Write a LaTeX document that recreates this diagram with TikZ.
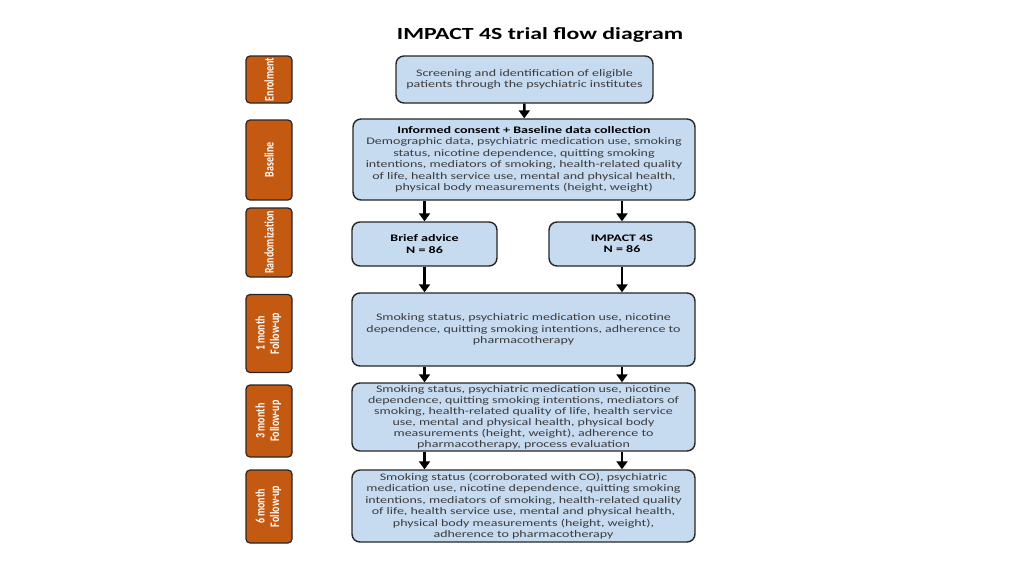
\documentclass[tikz,border=0pt]{standalone}
\usepackage{fontspec}
\setmainfont{Carlito}[FakeStretch=1.4]
\newfontfamily\sidefont{Carlito}
\usetikzlibrary{arrows.meta}
\definecolor{boxblue}{RGB}{198,218,240}
\definecolor{stageorange}{RGB}{196,89,17}
\definecolor{bodytext}{RGB}{60,60,60}
\newcommand{\sidelabel}[1]{\rotatebox{90}{\scalebox{1}[1.3]{#1}}}
\tikzset{
  flowbox/.style={draw=black!85,line width=1.4pt,rounded corners=8pt,fill=boxblue,
    align=center,inner sep=1pt,text=bodytext,font=\fontsize{10}{11.5}\selectfont},
  stagebox/.style={draw=black!85,line width=1.2pt,rounded corners=4pt,fill=stageorange,
    minimum width=46pt,inner sep=0pt,align=center,text=white,
    font=\sidefont\bfseries\fontsize{10}{11}\selectfont},
  flowarrow/.style={line width=2.6pt,-{Triangle[width=11pt,length=8pt]}}
}

\begin{document}
\begin{tikzpicture}[x=1pt,y=-1pt]
  \useasboundingbox (0,0) rectangle (1024,576);

  % Title
  \node (title) at (540,35) {\fontsize{17}{20}\selectfont\bfseries IMPACT 4S trial flow diagram};

  % Stage labels (left column)
  \node[stagebox,minimum height=47pt] (enrol) at (269,79.5) {\sidelabel{Enrolment}};
  \node[stagebox,minimum height=80pt] (basel) at (269,160) {\sidelabel{Baseline}};
  \node[stagebox,minimum height=69pt] (rand) at (269,242.5) {\sidelabel{Randomization}};
  \node[stagebox,minimum height=78pt] (fup1) at (269,333.5) {\sidelabel{\begin{tabular}{@{}c@{}}1 month\\Follow-up\end{tabular}}};
  \node[stagebox,minimum height=72pt] (fup3) at (269,421) {\sidelabel{\begin{tabular}{@{}c@{}}3 month\\Follow-up\end{tabular}}};
  \node[stagebox,minimum height=73pt] (fup6) at (269,506.5) {\sidelabel{\begin{tabular}{@{}c@{}}6 month\\Follow-up\end{tabular}}};

  % Flow boxes
  \node[flowbox,minimum width=257pt,minimum height=47pt] (screen) at (524.5,79.5)
    {Screening and identification of eligible\\patients through the psychiatric institutes};
  \node[flowbox,minimum width=342pt,minimum height=81pt] (base) at (524,159.5)
    {\textcolor{black}{\bfseries Informed consent + Baseline data collection}\\
     Demographic data, psychiatric medication use, smoking\\
     status, nicotine dependence, quitting smoking\\
     intentions, mediators of smoking, health-related quality\\
     of life, health service use, mental and physical health,\\
     physical body measurements (height, weight)};
  \node[flowbox,minimum width=145pt,minimum height=44pt,text=black] (brief) at (424.5,244)
    {\bfseries Brief advice\\\bfseries N = 86};
  \node[flowbox,minimum width=146pt,minimum height=44pt,text=black] (impact) at (622,244)
    {\bfseries IMPACT 4S\\\bfseries N = 86};
  \node[flowbox,minimum width=343pt,minimum height=73pt] (month1) at (523.5,329.5)
    {Smoking status, psychiatric medication use, nicotine\\
     dependence, quitting smoking intentions, adherence to\\
     pharmacotherapy};
  \node[flowbox,minimum width=343pt,minimum height=68pt,font=\fontsize{10}{11}\selectfont] (month3) at (523.5,417)
    {Smoking status, psychiatric medication use,  nicotine\\
     dependence, quitting smoking intentions, mediators of\\
     smoking, health-related quality of life, health service\\
     use, mental and physical health, physical body\\
     measurements (height, weight), adherence to\\
     pharmacotherapy, process evaluation};
  \node[flowbox,minimum width=343pt,minimum height=72pt] (month6) at (523.5,506)
    {Smoking status (corroborated with CO), psychiatric\\
     medication use,  nicotine dependence, quitting smoking\\
     intentions, mediators of smoking, health-related quality\\
     of life, health service use, mental and physical health,\\
     physical body measurements (height, weight),\\
     adherence to pharmacotherapy};

  % Arrows
  \draw[flowarrow] (screen) -- (base);
  \draw[flowarrow] (base.south -| brief) -- (brief);
  \draw[flowarrow] (base.south -| impact) -- (impact);
  \draw[flowarrow] (brief) -- (month1.north -| brief);
  \draw[flowarrow] (impact) -- (month1.north -| impact);
  \draw[flowarrow] (month1.south -| brief) -- (month3.north -| brief);
  \draw[flowarrow] (month1.south -| impact) -- (month3.north -| impact);
  \draw[flowarrow] (month3.south -| brief) -- (month6.north -| brief);
  \draw[flowarrow] (month3.south -| impact) -- (month6.north -| impact);
\end{tikzpicture}
\end{document}
